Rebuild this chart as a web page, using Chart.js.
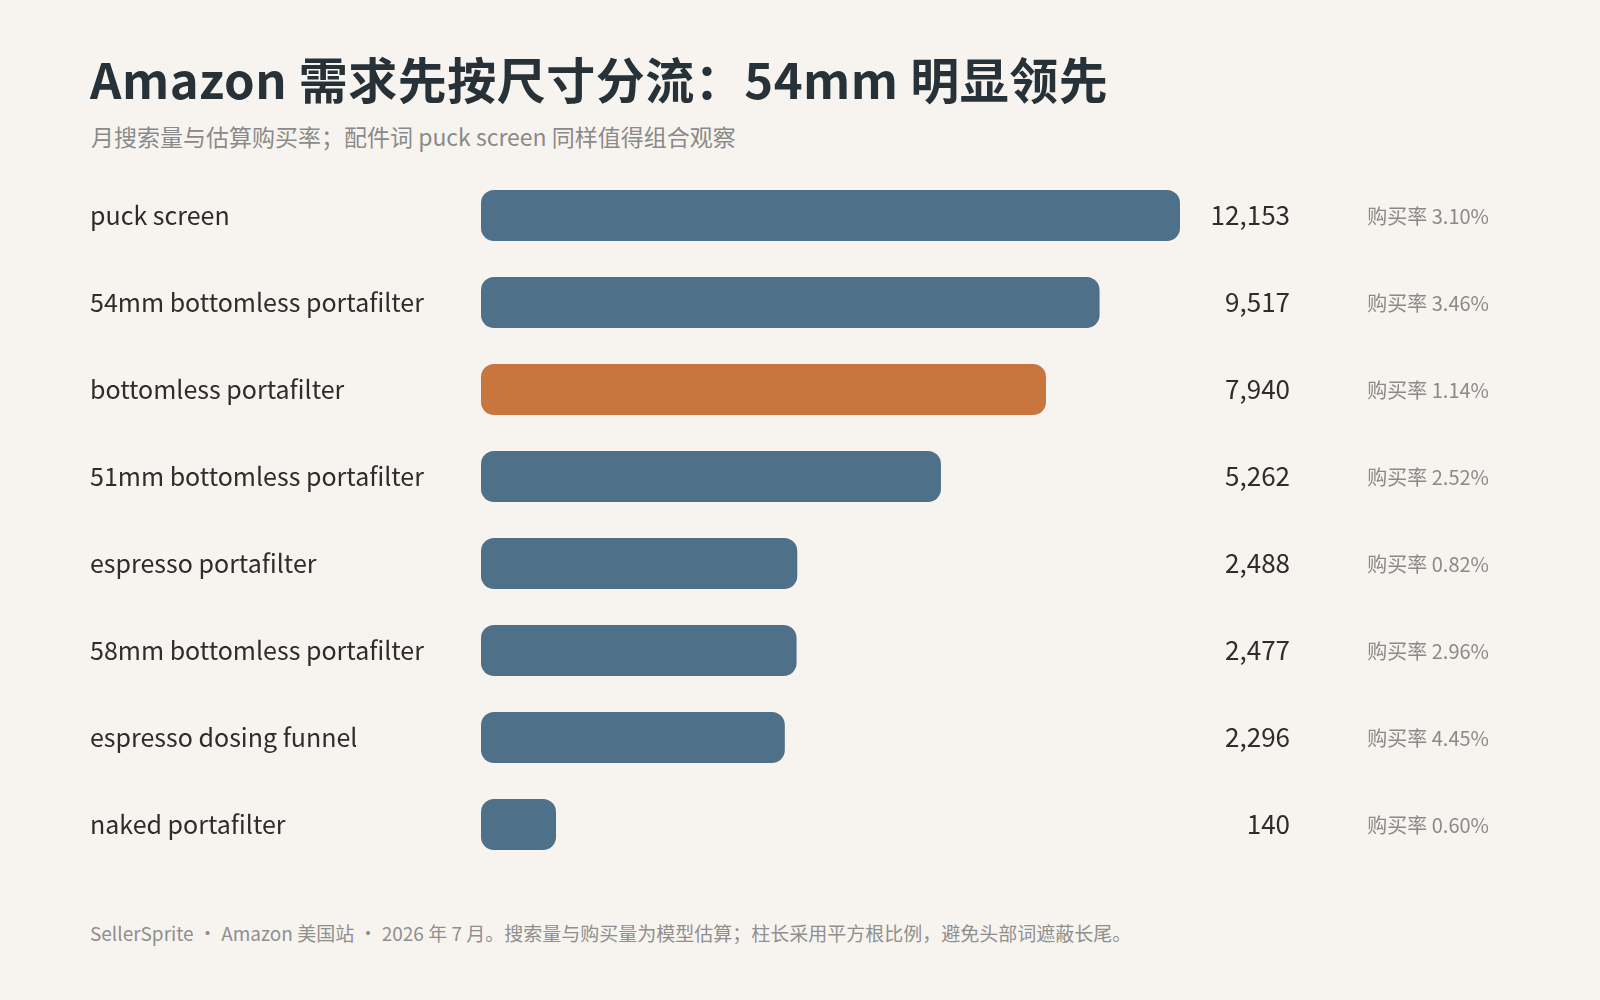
<!DOCTYPE html>
<html><head><meta charset="utf-8">
<script src="https://cdn.jsdelivr.net/npm/chart.js@4"></script>
<style>
html,body{margin:0;background:#f7f4ef;width:1600px;height:1000px;overflow:hidden;font-family:"Noto Sans CJK SC","Noto Sans",sans-serif;}
#t{position:absolute;left:90px;top:42px;font-size:49px;font-weight:700;color:#263238;letter-spacing:0.5px;}
#s{position:absolute;left:91px;top:119px;font-size:23px;color:#8a8a8a;}
#f{position:absolute;left:90px;top:919px;font-size:19px;color:#8f8f8f;}
#wrap{position:absolute;left:0;top:172px;width:1600px;height:696px;}
</style></head><body>
<div id="t">Amazon 需求先按尺寸分流：54mm 明显领先</div>
<div id="s">月搜索量与估算购买率；配件词 puck screen 同样值得组合观察</div>
<div id="f">SellerSprite · Amazon 美国站 · 2026 年 7 月。搜索量与购买量为模型估算；柱长采用平方根比例，避免头部词遮蔽长尾。</div>
<div id="wrap"><canvas id="c"></canvas></div>
<script>
const categories=["puck screen","54mm bottomless portafilter","bottomless portafilter","51mm bottomless portafilter","espresso portafilter","58mm bottomless portafilter","espresso dosing funnel","naked portafilter"];
const searchVolume=[12153,9517,7940,5262,2488,2477,2296,140];
const buyRate=["3.10%","3.46%","1.14%","2.52%","0.82%","2.96%","4.45%","0.60%"];
const highlight=[false,false,true,false,false,false,false,false];
const sqrtVals=searchVolume.map(v=>Math.sqrt(v));
const textPlugin={id:'txt',afterDatasetsDraw(ch){
 const c=ch.ctx,y=ch.scales.y;
 c.save();c.textBaseline='middle';
 categories.forEach((cat,i)=>{
  const py=y.getPixelForValue(i);
  c.font='25px "Noto Sans CJK SC","Noto Sans",sans-serif';c.fillStyle='#2d2d2d';c.textAlign='left';
  c.fillText(cat,90,py);
  c.textAlign='right';c.font='26px "Noto Sans CJK SC","Noto Sans",sans-serif';
  c.fillText(searchVolume[i].toLocaleString('en-US'),1290,py);
  c.font='20px "Noto Sans CJK SC","Noto Sans",sans-serif';c.fillStyle='#8a8a8a';
  c.fillText('购买率 '+buyRate[i],1489,py+1);
 });
 c.restore();}};
new Chart(document.getElementById('c'),{type:'bar',
 data:{labels:categories,datasets:[{data:sqrtVals,
  backgroundColor:highlight.map(h=>h?'#c8763e':'#4e7088'),
  borderRadius:13,borderSkipped:false,barPercentage:0.586,categoryPercentage:1}]},
 options:{indexAxis:'y',responsive:true,maintainAspectRatio:false,animation:false,
  layout:{padding:{left:481,right:420,top:0,bottom:0}},
  plugins:{legend:{display:false},tooltip:{enabled:false}},
  scales:{x:{display:false,min:0,max:Math.sqrt(12153)},y:{display:false}}},
 plugins:[textPlugin]});
</script></body></html>
